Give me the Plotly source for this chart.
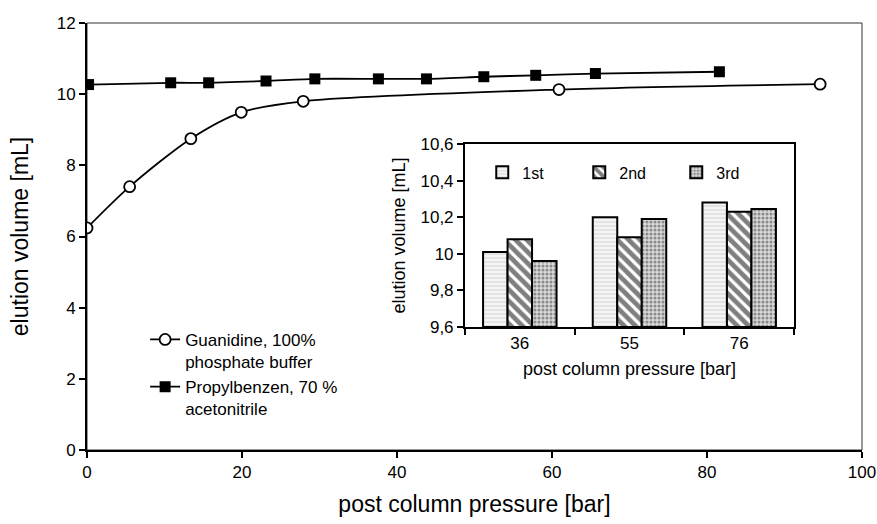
import plotly.graph_objects as go

# ---- main chart data ----
guan_x = [0, 5.5, 13.4, 19.9, 27.9, 60.9, 94.6]
guan_y = [6.24, 7.40, 8.75, 9.49, 9.80, 10.13, 10.28]

prop_x = [0.2, 10.8, 15.7, 23.1, 29.4, 37.6, 43.8, 51.2, 57.9, 65.6, 81.6]
prop_y = [10.27, 10.32, 10.32, 10.37, 10.43, 10.43, 10.43, 10.49, 10.53, 10.58, 10.63]

# ---- inset data ----
inset_cats = ["36", "55", "76"]
run1 = [10.01, 10.20, 10.28]
run2 = [10.08, 10.09, 10.23]
run3 = [9.96, 10.19, 10.245]
inset_tickvals = [9.6, 9.8, 10.0, 10.2, 10.4, 10.6]
inset_ticktext = ["9,6", "9,8", "10", "10,2", "10,4", "10,6"]

FONT = "Liberation Sans, Arial, Helvetica, sans-serif"

fig = go.Figure()

fig.add_trace(go.Scatter(
    x=guan_x, y=guan_y, mode="lines+markers",
    name="Guanidine, 100%<br>phosphate buffer",
    line=dict(color="black", width=1.8, shape="spline", smoothing=0.8),
    marker=dict(symbol="circle", size=11, color="white",
                line=dict(color="black", width=1.8)),
    legend="legend",
))
fig.add_trace(go.Scatter(
    x=prop_x, y=prop_y, mode="lines+markers",
    name="Propylbenzen, 70 %<br>acetonitrile",
    line=dict(color="black", width=1.8, shape="spline", smoothing=0.6),
    marker=dict(symbol="square", size=11, color="black",
                line=dict(color="black", width=0)),
    legend="legend",
))

bar_common = dict(xaxis="x2", yaxis="y2", legend="legend2")
fig.add_trace(go.Bar(
    x=inset_cats, y=[v - 9.6 for v in run1], base=9.6, name="1st",
    marker=dict(color="white", line=dict(color="black", width=2),
                pattern=dict(shape="-", fgcolor="#a0a0a0", bgcolor="#f4f4f4",
                             size=4, solidity=0.2)),
    **bar_common))
fig.add_trace(go.Bar(
    x=inset_cats, y=[v - 9.6 for v in run2], base=9.6, name="2nd",
    marker=dict(color="white", line=dict(color="black", width=2),
                pattern=dict(shape="\\", fgcolor="black", bgcolor="white",
                             size=8, solidity=0.6)),
    **bar_common))
fig.add_trace(go.Bar(
    x=inset_cats, y=[v - 9.6 for v in run3], base=9.6, name="3rd",
    marker=dict(color="white", line=dict(color="black", width=2),
                pattern=dict(shape=".", fgcolor="#3a3a3a", bgcolor="#d8d8d8",
                             size=4, solidity=0.45)),
    **bar_common))

axis_common = dict(showline=True, linecolor="black", linewidth=2,
                   ticks="outside", ticklen=6, tickwidth=1.5, tickcolor="black",
                   showgrid=False, zeroline=False)

fig.update_layout(
    width=877, height=524,
    margin=dict(l=87, r=15, t=23, b=74, autoexpand=False),
    paper_bgcolor="white", plot_bgcolor="white",
    font=dict(family=FONT, color="black", size=16),
    barmode="group", bargap=0.33, bargroupgap=0,
    xaxis=dict(range=[0, 100], dtick=20, tick0=0,
               title=dict(text="post column pressure [bar]",
                          font=dict(size=23), standoff=14),
               tickfont=dict(size=17), **axis_common),
    yaxis=dict(range=[0, 12], dtick=2, tick0=0,
               title=dict(text="elution volume [mL]",
                          font=dict(size=23), standoff=22),
               tickfont=dict(size=17), **axis_common),
    xaxis2=dict(domain=[0.4877, 0.9123], anchor="y2", type="category",
                tickson="boundaries", ticks="outside", ticklen=6,
                tickwidth=1.5, tickcolor="black",
                showline=True, linecolor="black", linewidth=2,
                mirror=True, showgrid=False,
                title=dict(text="post column pressure [bar]",
                           font=dict(size=18), standoff=10),
                tickfont=dict(size=17)),
    yaxis2=dict(domain=[0.2881, 0.7166], anchor="x2", range=[9.6, 10.6],
                tickvals=inset_tickvals, ticktext=inset_ticktext,
                ticks="outside", ticklen=6, tickwidth=1.5, tickcolor="black",
                showline=True, linecolor="black", linewidth=2,
                mirror=True, showgrid=False, zeroline=False,
                title=dict(text="elution volume [mL]",
                           font=dict(size=18), standoff=10),
                tickfont=dict(size=17)),
    legend=dict(x=0.075, y=0.30, xanchor="left", yanchor="top",
                bgcolor="rgba(0,0,0,0)", font=dict(size=17),
                valign="top", tracegroupgap=0),
    legend2=dict(orientation="h", x=0.51, y=0.69, xanchor="left",
                 yanchor="top", bgcolor="rgba(0,0,0,0)",
                 font=dict(size=16), entrywidth=52, entrywidthmode="pixels"),
    showlegend=True,
)

# thin frame around the main plot area (top and right edges)
fig.add_shape(type="rect", xref="x domain", yref="y domain",
              x0=0, x1=1, y0=0, y1=1,
              line=dict(color="#333333", width=1), layer="below")

fig.write_html("out.html")
